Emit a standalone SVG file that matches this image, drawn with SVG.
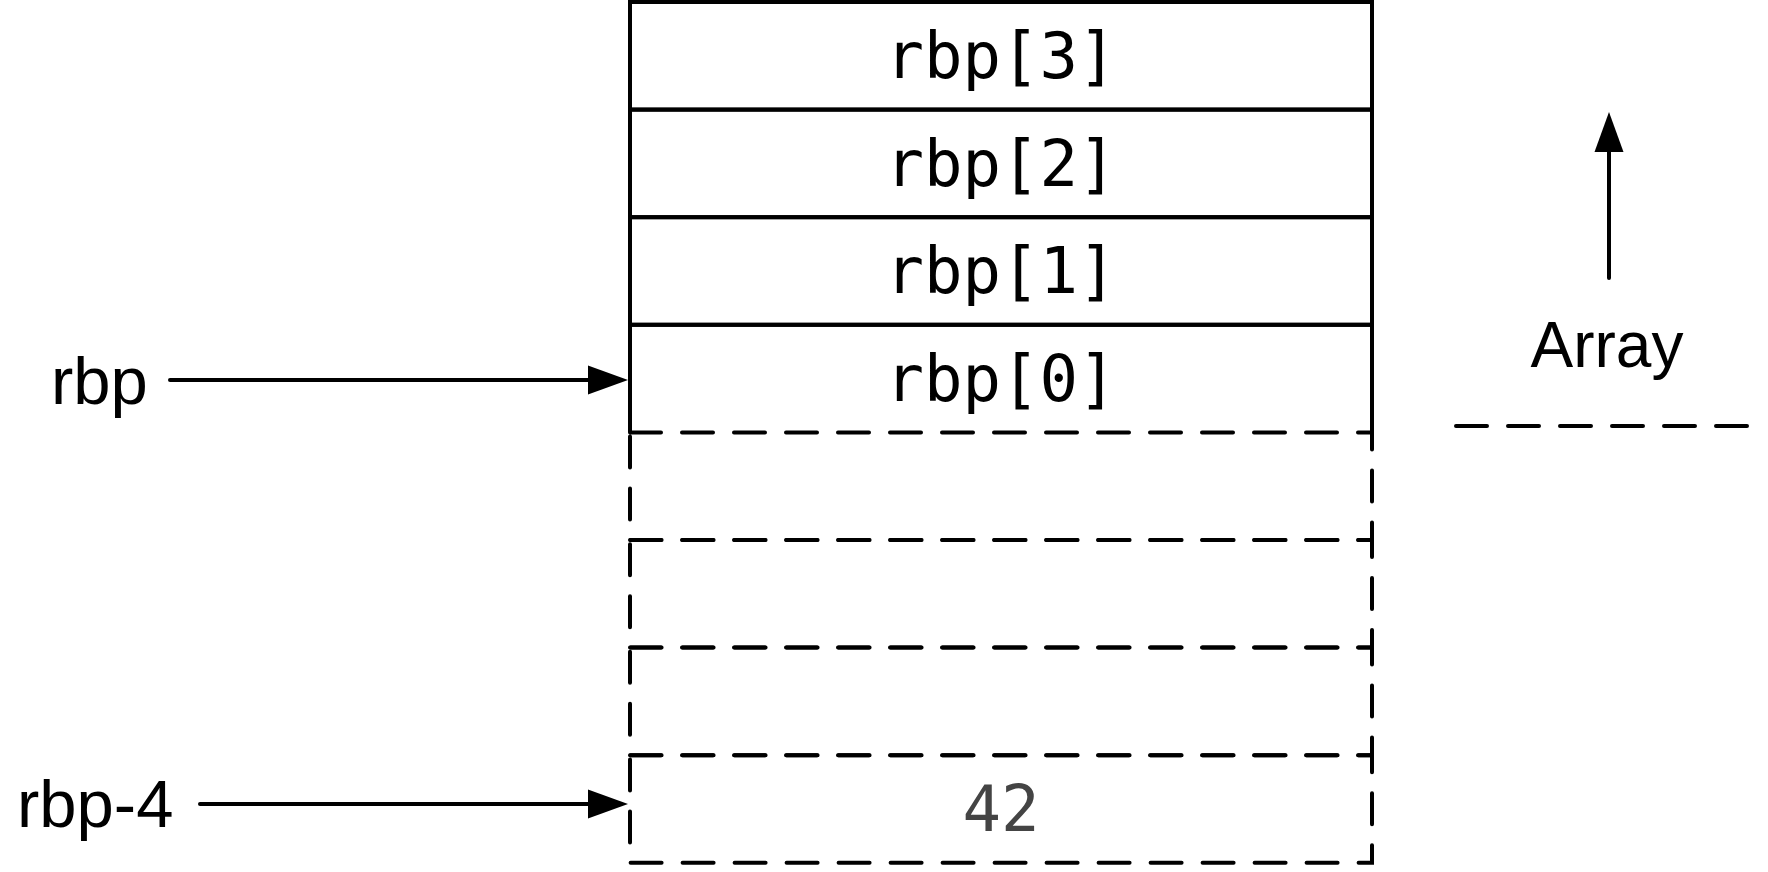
<svg xmlns="http://www.w3.org/2000/svg" width="1768" height="872" viewBox="0 0 1768 872">
<style>
.solid{fill:none;stroke:#000;stroke-width:4}
.dash{fill:none;stroke:#000;stroke-width:4;stroke-dasharray:31 21;stroke-linecap:round}
.mono{font-family:"DejaVu Sans Mono","Liberation Mono",monospace;font-size:64px;text-anchor:middle;fill:#000}
.lbl{font-family:"Liberation Sans",Arial,sans-serif;font-size:64px;fill:#000}
.side{font-size:67px}
.conn{fill:none;stroke:#000;stroke-width:4;stroke-linecap:round}
</style>
<defs>
<marker id="ah" markerUnits="userSpaceOnUse" markerWidth="40" markerHeight="29" refX="4" refY="14.5" orient="auto" overflow="visible">
<path d="M0,0 L40,14.5 L0,29 z" fill="#000"/>
</marker>
</defs>
<rect width="1768" height="872" fill="#fff"/>
<g id="cell-rbp3"><rect class="solid" x="630" y="2" width="742" height="107.6"/><text class="mono" x="1001" y="78">rbp[3]</text></g>
<g id="cell-rbp2"><rect class="solid" x="630" y="109.6" width="742" height="107.6"/><text class="mono" x="1001" y="185.6">rbp[2]</text></g>
<g id="cell-rbp1"><rect class="solid" x="630" y="217.2" width="742" height="107.6"/><text class="mono" x="1001" y="293.2">rbp[1]</text></g>
<g id="cell-rbp0"><path class="solid" d="M630,432.4 V324.8 H1372 V432.4"/><text class="mono" x="1001" y="400.8">rbp[0]</text></g>
<g id="cell-m1"><rect class="dash" x="630" y="432.4" width="742" height="107.6"/></g>
<g id="cell-m2"><rect class="dash" x="630" y="540" width="742" height="107.6"/></g>
<g id="cell-m3"><rect class="dash" x="630" y="647.6" width="742" height="107.6"/></g>
<g id="cell-m4"><rect class="dash" x="630" y="755.2" width="742" height="107.6"/><text class="mono" x="1001" y="831" style="fill:#444">42</text></g>
<g id="label-rbp"><text class="lbl side" x="51" y="404">rbp</text></g>
<g id="label-rbp4"><text class="lbl side" x="17" y="827">rbp-4</text></g>
<g id="label-array"><text class="lbl" x="1607" y="367" text-anchor="middle">Array</text></g>
<g id="divider"><line class="dash" x1="1456" y1="426" x2="1750" y2="426"/></g>
<g id="connectors">
<line class="conn" x1="170" y1="380" x2="592" y2="380" marker-end="url(#ah)"/>
<line class="conn" x1="200" y1="804" x2="592" y2="804" marker-end="url(#ah)"/>
<line class="conn" x1="1609" y1="278" x2="1609" y2="148" marker-end="url(#ah)"/>
</g>
</svg>
